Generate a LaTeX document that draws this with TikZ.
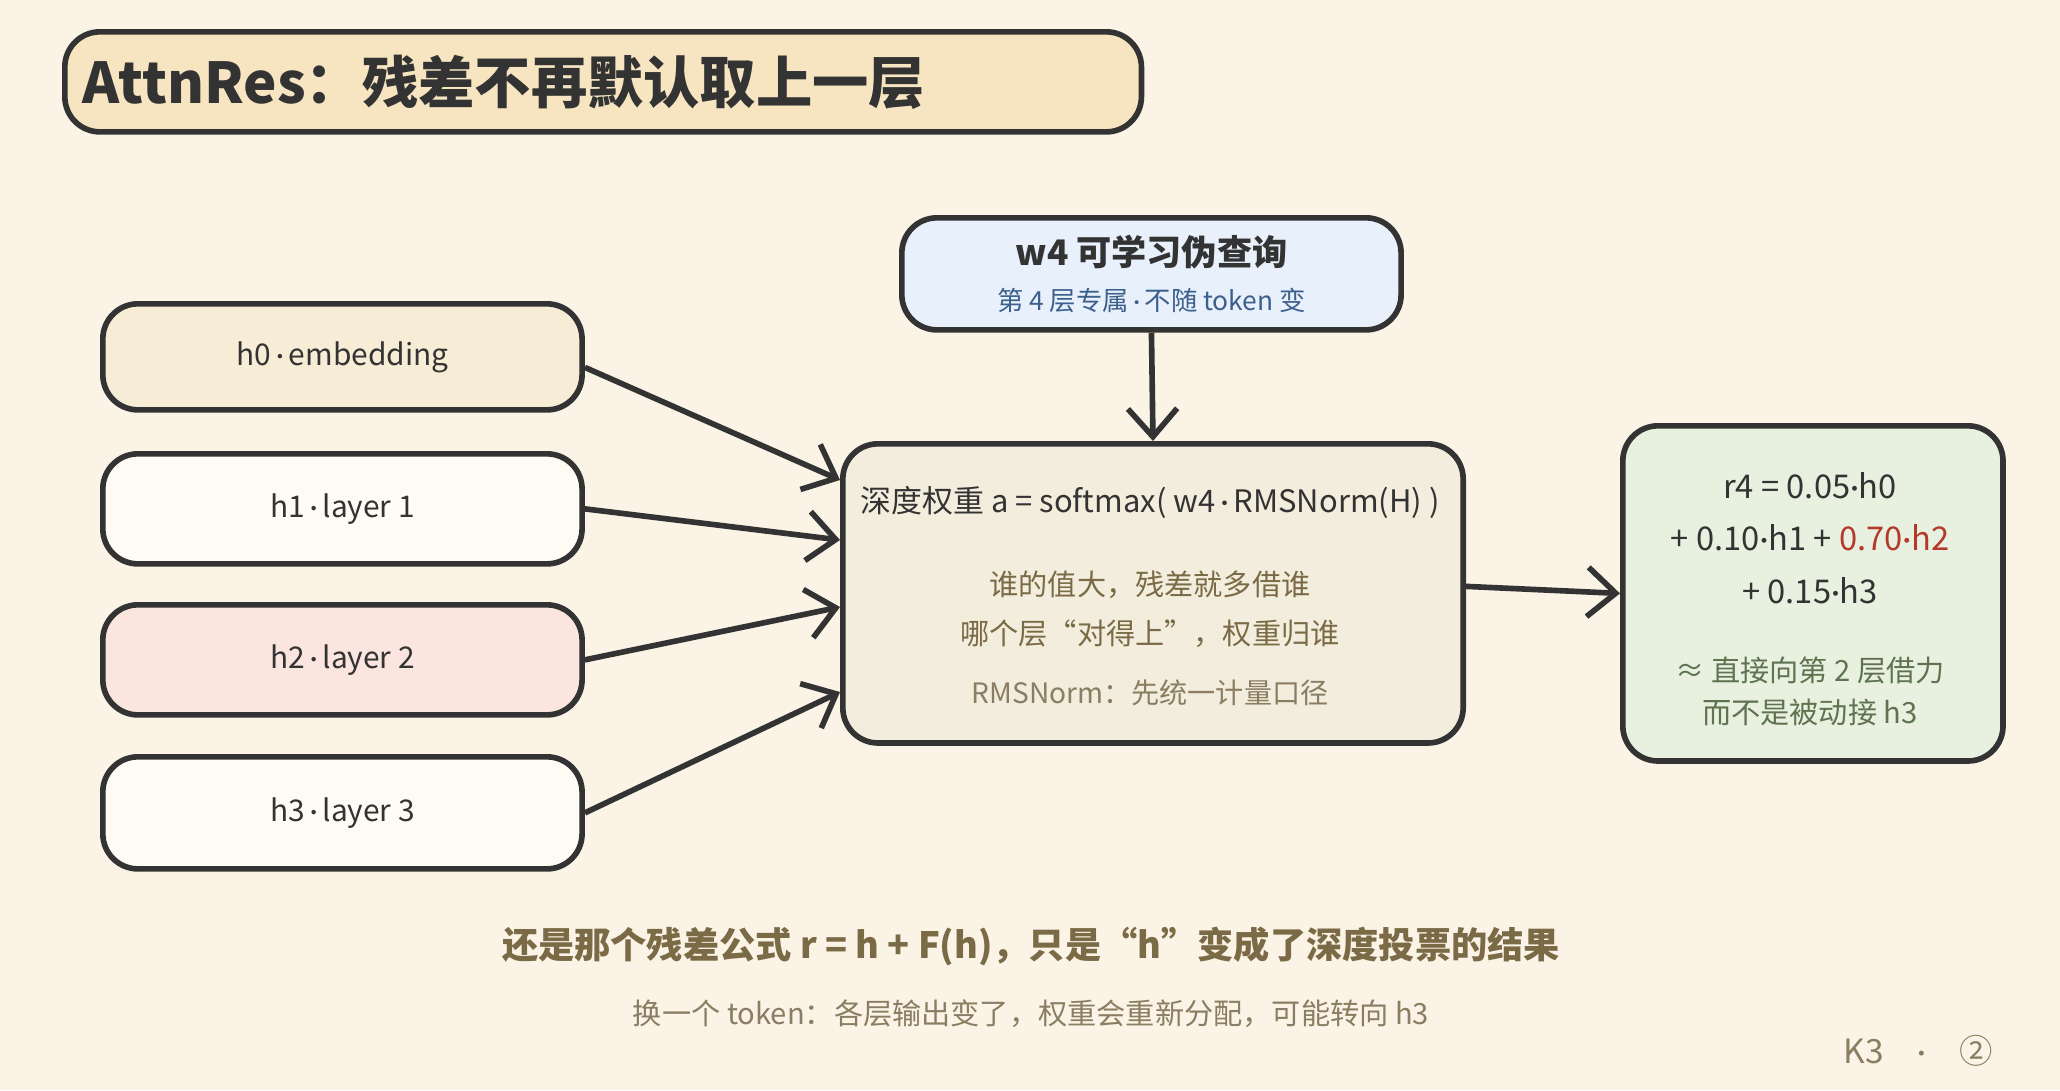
\documentclass[tikz,border=0pt]{standalone}
\usepackage{fontspec}
\setmainfont{Noto Sans CJK SC}
\newfontfamily\latinf{Lato}
\newcommand\md{{\latinf\,·\,}}
\newcommand\mdd{{\latinf·}}
\usetikzlibrary{positioning,arrows.meta}
\definecolor{bgc}{HTML}{FAF3E6}
\definecolor{ink}{HTML}{333333}
\definecolor{titlef}{HTML}{F6E5C0}
\definecolor{embf}{HTML}{F7ECD5}
\definecolor{layf}{HTML}{FDFBF3}
\definecolor{redf}{HTML}{FAE5DF}
\definecolor{qf}{HTML}{E7F0FB}
\definecolor{midf}{HTML}{F2EDDC}
\definecolor{outf}{HTML}{E8F1E0}
\definecolor{brown}{HTML}{7A6A45}
\definecolor{greent}{HTML}{5E7350}
\definecolor{redt}{HTML}{B5382C}
\definecolor{bluet}{HTML}{3D5F8C}
\definecolor{greyt}{HTML}{8A7D62}
\tikzset{
  box/.style={draw=ink, line width=1.6pt, rounded corners=10pt, align=center, text=ink},
  layer/.style={box, minimum width=4.79cm, minimum height=1.1cm, anchor=north west, font=\fontsize{8.5}{10}\selectfont},
  arr/.style={draw=ink, line width=1.6pt, -{Straight Barb[length=8pt,width=14pt]}}
}
\begin{document}
\begin{tikzpicture}[x=0.01cm,y=-0.01cm]
    % background
    \fill[bgc] (0,0) rectangle (2060,1090);
    \useasboundingbox (0,0) rectangle (2060,1090);

    % title
    \node[box, fill=titlef, minimum width=10.76cm, minimum height=1cm, anchor=north west, text width=10.4cm, align=left,
          font=\fontsize{16}{19}\selectfont\bfseries] (title) at (62,29) {AttnRes：残差不再默认取上一层};

    % layer outputs
    \node[layer, fill=embf, minimum height=1.06cm] (h0) at (100,301) {h0\md embedding};
    \node[layer, fill=layf] (h1) at (100,451) {h1\md layer 1};
    \node[layer, fill=redf] (h2) at (100,602) {h2\md layer 2};
    \node[layer, fill=layf, minimum height=1.12cm] (h3) at (100,754) {h3\md layer 3};

    % pseudo query
    \node[box, fill=qf, minimum width=4.99cm, minimum height=1.12cm, anchor=north west, font=\fontsize{10}{13}\selectfont] (query) at (899,215)
        {\bfseries w4 可学习伪查询\\[0pt]
         {\fontsize{7.5}{9}\selectfont\color{bluet} 第 4 层专属\md 不随 token 变}};

    % depth attention
    \node[box, fill=midf, minimum width=6.2cm, minimum height=2.99cm, anchor=north west] (mix) at (840,441) {};
    \node[text=ink, font=\fontsize{8.8}{11}\selectfont] (mixeq) at (1150,502) {深度权重 a = softmax( w4\md RMSNorm(H) )};
    \node[text=brown, align=center, below=8pt of mixeq, font=\fontsize{8.3}{14}\selectfont] (mixtxt)
        {谁的值大，残差就多借谁\\ 哪个层“对得上”，权重归谁};
    \node[text=greyt, below=2pt of mixtxt, font=\fontsize{8}{10}\selectfont] (mixnote) {RMSNorm：先统一计量口径};

    % result
    \node[box, fill=outf, minimum width=3.8cm, minimum height=3.35cm, anchor=north west] (res) at (1620,423) {};
    \node[text=ink, align=center, font=\fontsize{9.3}{15}\selectfont] (reseq) at (1810,538)
        {r4 = 0.05\mdd h0\\ + 0.10\mdd h1 + \textcolor{redt}{0.70\mdd h2}\\ + 0.15\mdd h3};
    \node[text=greent, align=center, below=8pt of reseq, font=\fontsize{8.3}{12}\selectfont] (resnote)
        {≈ 直接向第 2 层借力\\ 而不是被动接 h3};

    % connectors
    \coordinate (in0) at (840,480);
    \coordinate (in1) at (840,540);
    \coordinate (in2) at (840,607);
    \coordinate (in3) at (840,692);
    \draw[arr] ([yshift=-3pt]h0.east) -- (in0);
    \draw[arr] (h1.east) -- (in1);
    \draw[arr] (h2.east) -- (in2);
    \draw[arr] (h3.east) -- (in3);
    \draw[arr] (query.south) -- (mix.north);
    \draw[arr] ([yshift=2pt]mix.east) -- (res.west);

    % footer
    \node[text=brown, font=\fontsize{10.3}{12}\selectfont\bfseries] (foot1) at (1031,946) {还是那个残差公式 r = h + F(h)，只是“h”变成了深度投票的结果};
    \node[text=greyt, font=\fontsize{8.3}{10}\selectfont] (foot2) at (1031,1014) {换一个 token：各层输出变了，权重会重新分配，可能转向 h3};
    \node[text=greyt, font=\fontsize{9.5}{11}\selectfont] (mark) at (1918,1051) {K3\quad{\latinf·}\quad ②};
\end{tikzpicture}
\end{document}
